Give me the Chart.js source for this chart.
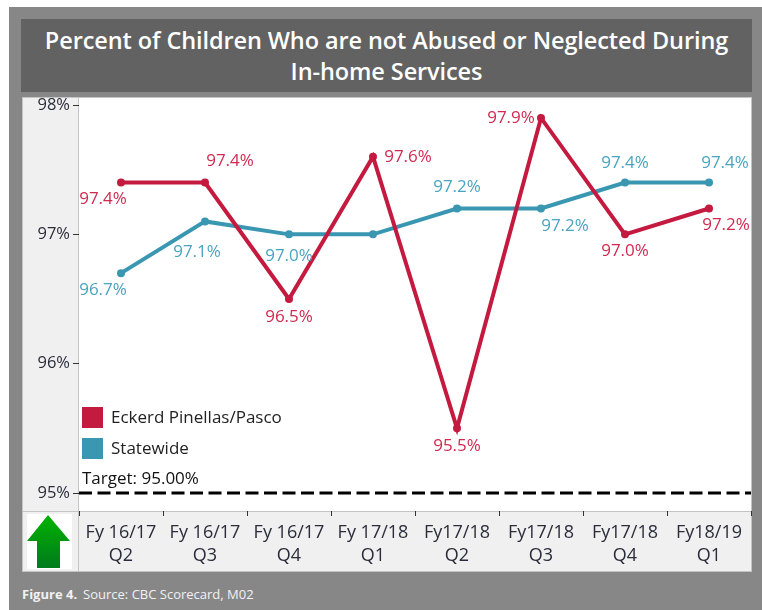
<!DOCTYPE html>
<html>
<head>
<meta charset="utf-8">
<script src="https://cdn.jsdelivr.net/npm/chart.js@4.4.1/dist/chart.umd.min.js"></script>
<style>
    html, body { margin: 0; padding: 0; background: #ffffff; }
    body { width: 762px; height: 610px; position: relative; overflow: hidden; font-family: "Open Sans", sans-serif; }
    #frame { position: absolute; left: 9px; top: 7px; width: 753px; height: 603px; background: #878787; }
    #title {
        position: absolute; left: 21px; top: 19px; width: 731px; height: 73px;
        background: #626262; color: #ffffff; text-align: center;
        font-weight: 600; font-size: 23.5px; line-height: 31px;
        box-sizing: border-box; padding-top: 6px; letter-spacing: -0.1px;
    }
    #panel { position: absolute; left: 22px; top: 97px; width: 730px; height: 475px; }
    #footer {
        position: absolute; left: 22px; top: 585px; color: #f2f2f2;
        font-size: 13px; line-height: 18px;
    }
    #footer b { font-weight: 700; margin-right: 6px; }
</style>
</head>
<body>
<div id="frame"></div>
<div id="title">Percent of Children Who are not Abused or Neglected During<br>In-home Services</div>
<div id="panel"><canvas id="chart" width="730" height="475"></canvas></div>
<div id="footer"><b>Figure 4.</b>Source: CBC Scorecard, M02</div>

<script>
// Chart data
const categories = [
    ['Fy 16/17', 'Q2'], ['Fy 16/17', 'Q3'], ['Fy 16/17', 'Q4'], ['Fy 17/18', 'Q1'],
    ['Fy17/18', 'Q2'], ['Fy17/18', 'Q3'], ['Fy17/18', 'Q4'], ['Fy18/19', 'Q1']
];
const eckerdValues = [97.4, 97.4, 96.5, 97.6, 95.5, 97.9, 97.0, 97.2];
const statewideValues = [96.7, 97.1, 97.0, 97.0, 97.2, 97.2, 97.4, 97.4];
const statewideShowLabel = [true, true, true, false, true, true, true, true];
const yTickValues = [95, 96, 97, 98];
const targetValue = 95;
const seriesNames = ['Eckerd Pinellas/Pasco', 'Statewide'];

// Label placement (dx, dy from each point), style only
const eckerdLabelOffsets = [[-18, 17], [25, -21], [0, 18], [35, 0], [0, 18], [-30, 0], [0, 17], [17, 17]];
const statewideLabelOffsets = [[-18, 17], [-8, 31], [0, 22], [0, 0], [0, -21], [24, 18], [0, -19], [16, -19]];

const RED = '#c41a3f';
const RED_TEXT = '#d02a50';
const BLUE = '#3a97b2';
const BLUE_TEXT = '#4aa3c0';
const FONT = '"Open Sans", sans-serif';

// Panel backgrounds, borders, target line, legend, point labels and arrow icon
const panelPlugin = {
    id: 'panelPlugin',
    beforeDraw(chart) {
        const { ctx, chartArea: a, width, height } = chart;
        ctx.save();
        ctx.fillStyle = '#f0f0f0';
        ctx.fillRect(0, 0, width, height);
        ctx.fillStyle = '#ffffff';
        ctx.fillRect(a.left, a.top, a.right - a.left, a.bottom - a.top);
        ctx.strokeStyle = '#c4c4c4';
        ctx.lineWidth = 1;
        ctx.strokeRect(0.5, 0.5, width - 1, height - 1);
        ctx.beginPath();
        ctx.moveTo(a.left - 0.5, 0);
        ctx.lineTo(a.left - 0.5, height);
        ctx.moveTo(0, a.bottom + 0.5);
        ctx.lineTo(width, a.bottom + 0.5);
        ctx.stroke();

        // green arrow icon
        const bx = 5, by = a.bottom + 3;
        ctx.fillStyle = '#ffffff';
        ctx.fillRect(bx, by, 45, 55);
        const g = ctx.createLinearGradient(0, by, 0, by + 55);
        g.addColorStop(0, '#00b400');
        g.addColorStop(1, '#007a1e');
        ctx.fillStyle = g;
        ctx.beginPath();
        ctx.moveTo(bx + 21, by + 1);
        ctx.lineTo(bx + 43, by + 27);
        ctx.lineTo(bx + 33, by + 27);
        ctx.lineTo(bx + 33, by + 54);
        ctx.lineTo(bx + 10, by + 54);
        ctx.lineTo(bx + 10, by + 27);
        ctx.lineTo(bx + 0, by + 27);
        ctx.closePath();
        ctx.fill();
        ctx.restore();
    },
    beforeDatasetsDraw(chart) {
        const { ctx, chartArea: a, scales } = chart;
        const y = scales.y.getPixelForValue(targetValue);
        ctx.save();
        ctx.strokeStyle = '#000000';
        ctx.lineWidth = 3;
        ctx.setLineDash([13, 5.5]);
        ctx.beginPath();
        ctx.moveTo(a.left, y);
        ctx.lineTo(a.right, y);
        ctx.stroke();
        ctx.setLineDash([]);

        // legend
        ctx.font = '17px ' + FONT;
        ctx.textBaseline = 'middle';
        ctx.textAlign = 'left';
        const lx = a.left + 3;
        [RED, BLUE].forEach((c, i) => {
            const ly = 310 + i * 31;
            ctx.fillStyle = c;
            ctx.fillRect(lx, ly, 21, 21);
            ctx.fillStyle = '#222222';
            ctx.fillText(seriesNames[i], lx + 29, ly + 11);
        });
        ctx.fillStyle = '#111111';
        ctx.fillText('Target: ' + targetValue.toFixed(2) + '%', lx, y - 14);
        ctx.restore();
    },
    afterDatasetsDraw(chart) {
        const { ctx } = chart;
        ctx.save();
        ctx.font = '17px ' + FONT;
        ctx.textAlign = 'center';
        ctx.textBaseline = 'middle';
        const sets = [
            { values: eckerdValues, offsets: eckerdLabelOffsets, color: RED_TEXT, show: null },
            { values: statewideValues, offsets: statewideLabelOffsets, color: BLUE_TEXT, show: statewideShowLabel }
        ];
        sets.forEach((s, di) => {
            const meta = chart.getDatasetMeta(di);
            meta.data.forEach((pt, i) => {
                if (s.show && !s.show[i]) return;
                ctx.fillStyle = s.color;
                ctx.fillText(s.values[i].toFixed(1) + '%', pt.x + s.offsets[i][0], pt.y + s.offsets[i][1]);
            });
        });
        ctx.restore();
    }
};

const chart = new Chart(document.getElementById('chart'), {
    type: 'line',
    data: {
        labels: categories,
        datasets: [{
            label: seriesNames[0],
            data: eckerdValues,
            borderColor: RED,
            backgroundColor: RED,
            borderWidth: 4,
            pointRadius: 4,
            pointBorderWidth: 0,
            tension: 0
        }, {
            label: seriesNames[1],
            data: statewideValues,
            borderColor: BLUE,
            backgroundColor: BLUE,
            borderWidth: 4,
            pointRadius: 4,
            pointBorderWidth: 0,
            tension: 0
        }]
    },
    options: {
        responsive: false,
        animation: false,
        layout: { autoPadding: false, padding: { top: 0, right: 1, left: 0, bottom: 0 } },
        plugins: {
            legend: { display: false },
            tooltip: { enabled: false }
        },
        scales: {
            x: {
                offset: true,
                grid: {
                    offset: true,
                    drawOnChartArea: false,
                    tickLength: 5,
                    color: '#333333'
                },
                border: { display: false },
                ticks: {
                    color: '#2b2b3a',
                    font: { family: FONT, size: 18, lineHeight: 1.28 },
                    padding: 5,
                    maxRotation: 0,
                    autoSkip: false
                },
                afterFit(scale) {
                    scale.height = 61;
                    scale.paddingLeft = 0;
                    scale.paddingRight = 0;
                }
            },
            y: {
                min: 94.861,
                max: 98.062,
                afterBuildTicks(scale) {
                    scale.ticks = yTickValues.map(v => ({ value: v }));
                },
                grid: {
                    drawOnChartArea: false,
                    tickLength: 6,
                    color: '#333333'
                },
                border: { display: false },
                ticks: {
                    color: '#2b2b3a',
                    font: { family: FONT, size: 16.5 },
                    padding: 3,
                    callback: v => v + '%'
                },
                afterFit(scale) {
                    scale.width = 57;
                    scale.paddingTop = 0;
                    scale.paddingBottom = 0;
                }
            }
        }
    },
    plugins: [panelPlugin]
});
</script>
</body>
</html>
